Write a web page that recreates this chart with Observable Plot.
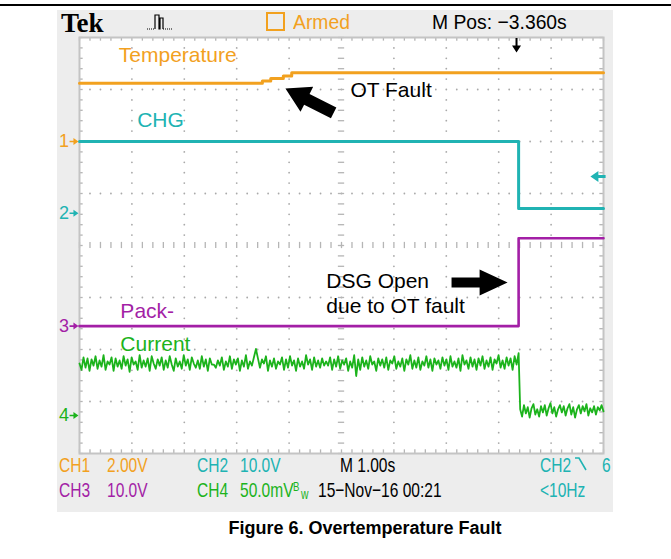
<!DOCTYPE html>
<html><head><meta charset="utf-8">
<script src="https://cdn.jsdelivr.net/npm/d3@7"></script>
<script src="https://cdn.jsdelivr.net/npm/@observablehq/plot@0.6"></script>
<style>
html,body{margin:0;padding:0;background:#fff;}
#page{position:relative;width:671px;height:559px;overflow:hidden;font-family:"Liberation Sans",Arial,sans-serif;}
#rule{position:absolute;left:0;top:4px;width:671px;height:2px;background:#000;}
#screen{position:absolute;left:57px;top:10px;width:556px;height:502px;background:#ededed;overflow:hidden;}
#chart{position:absolute;left:0;top:0;}
.t{position:absolute;white-space:nowrap;line-height:1;font-family:"Liberation Sans",Arial,sans-serif;font-size:21px;transform-origin:0 0;}
#tek{position:absolute;left:61px;top:10px;line-height:1;font-family:"Liberation Serif",serif;font-weight:bold;font-size:27px;color:#000;}
#caption{position:absolute;left:0;width:730px;top:519px;text-align:center;font-weight:bold;font-size:18px;line-height:1;color:#000;}
</style>
</head><body>
<div id="page">
  <div id="rule"></div>
  <div id="screen"></div>
  <div id="chart"></div>
  <div id="tek">Tek</div>
  <div id="caption">Figure 6. Overtemperature Fault</div>
</div>
<script>
// ---------- data ----------
const channelNames   = ["CH1", "CH2", "CH3", "CH4"];
const channelScales  = [2, 10, 10, 50];          // V/div (CH4 in mV/div)
const channelOffsets = [2.0, 0.62, -1.55, -3.27]; // ground position, divisions
const traceLabels    = ["Temperature", "CHG", "Pack-", "Current"];

const tempTime  = [0, 3.49, 3.65, 3.89, 4.05, 10];
const tempVolts = [2.24, 2.33, 2.42, 2.52, 2.64, 2.64];

const chgTime  = [0, 8.38, 10];
const chgVolts = [13.8, 0.9, 0.9];

const packTime  = [0, 8.38, 10];
const packVolts = [0, 16.9, 16.9];

const dropTime = 8.38;
const currentBefore = [
 50,44,56,46,55,43,54,48,57,45,53,47,58,44,52,49,56,43,55,47,
 53,45,57,48,54,42,56,49,52,44,58,46,53,47,55,43,57,50,45,54,
 48,56,44,53,46,57,49,43,55,47,52,45,58,48,54,44,56,50,46,53,
 45,57,47,54,43,55,49,49,46,53,48,56,44,52,47,57,45,54,49,55,
 43,53,47,58,45,52,48,56,64,55,46,54,50,57,43,53,47,55,45,52,
 49,56,44,54,46,57,48,53,43,55,47,52,45,58,49,54,44,56,47,53,
 46,55,48,52,48,56,44,54,47,57,45,53,49,55,43,52,46,58,38,54,
 44,56,47,53,45,57,49,52,43,55,48,54,46,56,44,53,50,57,45,52,
 47,55,43,54,49,58,45,53,46,56,44,52,48,57,46,54,43,55,49,53,
 45,56,48,54,44,57,47,52,46,55,43,58,49,53,45,56,47,54,44,55,
 48,57,45,53,47,56,44,54,50,58,46,53,45,56,48,55,44,57,49,60];
const currentAfter = [
 6,-1,10,2,8,-2,7,11,1,6,-1,9,3,10,0,7,12,2,8,-1,6,10,3,
 9,0,7,11,1,8,-2,6,10,2,9,4,11,0,7,3,9,1,8,5,10,4];

const annotationText = ["OT Fault", "DSG Open", "due to OT fault"];

// ---------- styles ----------
const COLORS = ["#f2a11f", "#20b3b3", "#a31fa6", "#1cb31c"];
const W = 671, H = 559, ML = 79, MR = 68, MT = 37, MB = 106;
const KX = (W - ML - MR) / 10, KY = (H - MT - MB) / 8;

const toDiv = (ch, v) => channelOffsets[ch] + v / channelScales[ch];
const zip = (ch, ts, vs) => ts.map((t, i) => ({t, d: toDiv(ch, vs[i])}));

const tempPts = zip(0, tempTime, tempVolts);
const chgPts  = zip(1, chgTime, chgVolts);
const packPts = zip(2, packTime, packVolts);
const curT1 = currentBefore.map((_, i) => i * dropTime / (currentBefore.length - 1));
const curT2 = currentAfter.map((_, i) => dropTime + 0.03 + i * (10 - dropTime - 0.03) / (currentAfter.length - 1));
const curPts = zip(3, curT1.concat(curT2), currentBefore.concat(currentAfter));

// graticule scaffolding
const minorX = d3.range(0, 51).map(i => i / 5);
const minorY = d3.range(-20, 21).map(i => i / 5);
const dots = [];
for (const y of [-3, -2, -1, 1, 2, 3]) for (const x of minorX) if (x > 0 && x < 10) dots.push({x, y});
for (const x of [1, 2, 3, 4, 6, 7, 8, 9]) for (const y of minorY) if (y > -4 && y < 4 && !Number.isInteger(y)) dots.push({x, y});

function blockArrow(tail, tip, shaftW, headW, headL) {
  const dx = (tip[0] - tail[0]) * KX, dy = (tip[1] - tail[1]) * KY;
  const L = Math.hypot(dx, dy), ux = dx / L, uy = dy / L, nx = -uy, ny = ux;
  const px = tip[0] * KX, py = tip[1] * KY;
  const bx = px - ux * headL, by = py - uy * headL;
  const tx = tail[0] * KX, ty = tail[1] * KY;
  const s = shaftW / 2, h = headW / 2;
  return [[tx + nx * s, ty + ny * s], [bx + nx * s, by + ny * s], [bx + nx * h, by + ny * h], [px, py],
          [bx - nx * h, by - ny * h], [bx - nx * s, by - ny * s], [tx - nx * s, ty - ny * s]]
         .map(([x, y]) => ({x: x / KX, y: y / KY}));
}
const arrowMark = (pts, color) => Plot.line(pts, {x: "x", y: "y", fill: color, stroke: "none", curve: "linear"});

const labelFont = "Liberation Sans, Arial, sans-serif";
const labels = [
  {text: traceLabels[0], t: 0.75, d: 3.66, c: COLORS[0]},
  {text: traceLabels[1], t: 1.1,  d: 2.40, c: COLORS[1]},
  {text: traceLabels[2], t: 0.78, d: -1.27, c: COLORS[2]},
  {text: traceLabels[3], t: 0.78, d: -1.89, c: COLORS[3]},
  {text: annotationText[0], t: 5.17, d: 2.98, c: "#000"},
  {text: annotationText[1], t: 4.71, d: -0.69, c: "#000"},
  {text: annotationText[2], t: 4.71, d: -1.17, c: "#000"}
];
const markers = channelOffsets.map((o, i) => ({text: String(i + 1), t: -0.2, d: o, c: COLORS[i]}));

const marks = [
  Plot.frame({fill: "white", stroke: "none"}),
  Plot.dot(dots, {x: "x", y: "y", r: 0.9, fill: "#a9a9a9", stroke: "none"}),
  Plot.ruleX(minorX, {y1: -0.06, y2: 0.06, stroke: "#b5b5b5", strokeWidth: 1.3}),
  Plot.ruleY(minorY, {x1: 4.94, x2: 5.06, stroke: "#b5b5b5", strokeWidth: 1.3}),
  Plot.ruleX(minorX, {y1: 4, y2: 3.93, stroke: "#b5b5b5", strokeWidth: 1.3}),
  Plot.ruleX(minorX, {y1: -4, y2: -3.93, stroke: "#b5b5b5", strokeWidth: 1.3}),
  Plot.ruleY(minorY, {x1: 0, x2: 0.07, stroke: "#b5b5b5", strokeWidth: 1.3}),
  Plot.ruleY(minorY, {x1: 10, x2: 9.93, stroke: "#b5b5b5", strokeWidth: 1.3}),
  Plot.frame({stroke: "#c4c4c4", strokeWidth: 2}),
  Plot.line(tempPts, {x: "t", y: "d", stroke: COLORS[0], strokeWidth: 3, curve: "step-after"}),
  Plot.line(chgPts, {x: "t", y: "d", stroke: COLORS[1], strokeWidth: 3, curve: "step-after"}),
  Plot.line(packPts, {x: "t", y: "d", stroke: COLORS[2], strokeWidth: 2.6, curve: "step-after"}),
  Plot.line(curPts, {x: "t", y: "d", stroke: COLORS[3], strokeWidth: 1.8}),
  Plot.text(labels, {x: "t", y: "d", text: "text", fill: "c", fontSize: 21, textAnchor: "start", lineAnchor: "middle", fontFamily: labelFont}),
  Plot.text(markers, {x: "t", y: "d", text: "text", fill: "c", fontSize: 18, textAnchor: "end", lineAnchor: "middle", fontFamily: labelFont, fontStretch: "condensed"}),
  ...markers.map(m => arrowMark(blockArrow([-0.19, m.d], [-0.02, m.d], 1.6, 7, 5), m.c)),
  arrowMark(blockArrow([4.85, 2.55], [3.93, 3.02], 12, 28, 24), "#000"),
  arrowMark(blockArrow([7.1, -0.71], [8.17, -0.71], 10, 26, 28), "#000"),
  arrowMark(blockArrow([8.34, 3.99], [8.34, 3.71], 2, 9, 7), "#000"),
  arrowMark(blockArrow([10.04, 1.327], [9.75, 1.327], 3, 11, 8), COLORS[1])
];

const chart = Plot.plot({
  width: W, height: H,
  marginLeft: ML, marginRight: MR, marginTop: MT, marginBottom: MB,
  x: {domain: [0, 10], axis: null},
  y: {domain: [-4, 4], axis: null},
  style: {background: "transparent", overflow: "visible"},
  marks
});
document.getElementById("chart").appendChild(chart);

// ---------- scope header / footer readouts ----------
const screen = document.getElementById("screen");
function txt(s, left, baseline, color, sx, size) {
  const fs = size || 21;
  const el = document.createElement("div");
  el.className = "t";
  el.textContent = s;
  el.style.fontSize = fs + "px";
  el.style.left = (left - 57) + "px";
  el.style.top = (baseline - 10 - 0.85 * fs) + "px";
  el.style.color = color;
  el.style.transform = `scaleX(${sx})`;
  screen.appendChild(el);
  return el;
}
const HS = 0.92, FS = 0.74;
txt("Armed", 293, 29, COLORS[0], HS);
txt("M Pos: \u22123.360s", 432, 29, "#000", HS);
txt(channelNames[0], 59, 472, COLORS[0], FS);
txt("2.00V", 107, 472, COLORS[0], FS);
txt(channelNames[1], 197, 472, COLORS[1], FS);
txt("10.0V", 240, 472, COLORS[1], FS);
txt("M 1.00s", 340, 472, "#000", FS);
txt(channelNames[1], 540, 472, COLORS[1], FS);
txt("6", 602, 472, COLORS[1], FS);
txt(channelNames[2], 59, 497, COLORS[2], FS);
txt("10.0V", 107, 497, COLORS[2], FS);
txt(channelNames[3], 197, 497, COLORS[3], FS);
txt("50.0mV", 240, 497, COLORS[3], FS);
txt("B", 293, 491, COLORS[3], FS, 13);
txt("w", 301, 499, COLORS[3], FS, 14);
txt("15\u2212Nov\u221216 00:21", 318, 497, "#000", FS);
txt("<10Hz", 540, 497, COLORS[1], FS);

// small icons drawn as inline svg inside the screen
const ns = "http://www.w3.org/2000/svg";
const icons = document.createElementNS(ns, "svg");
icons.setAttribute("width", 556); icons.setAttribute("height", 502);
icons.style.position = "absolute"; icons.style.left = "0"; icons.style.top = "0";
icons.innerHTML = `
 <rect x="${267-57}" y="${13-10}" width="17" height="17" fill="none" stroke="${COLORS[0]}" stroke-width="2"/>
 <path d="M${147-57} ${29-10} h8" fill="none" stroke="#000" stroke-width="1.2" stroke-dasharray="1 1"/>
 <path d="M${155-57} ${29-10} V${15-10} h4 v14 h1 V${18-10} h3 V${29-10}" fill="none" stroke="#000" stroke-width="1.2"/>
 <path d="M${163-57} ${29-10} h10" fill="none" stroke="#000" stroke-width="1.2" stroke-dasharray="1 1"/>
 <path d="M${575-57} ${458-10} h4 l7 12" fill="none" stroke="${COLORS[1]}" stroke-width="1.6"/>`;
screen.appendChild(icons);
</script>
</body></html>
